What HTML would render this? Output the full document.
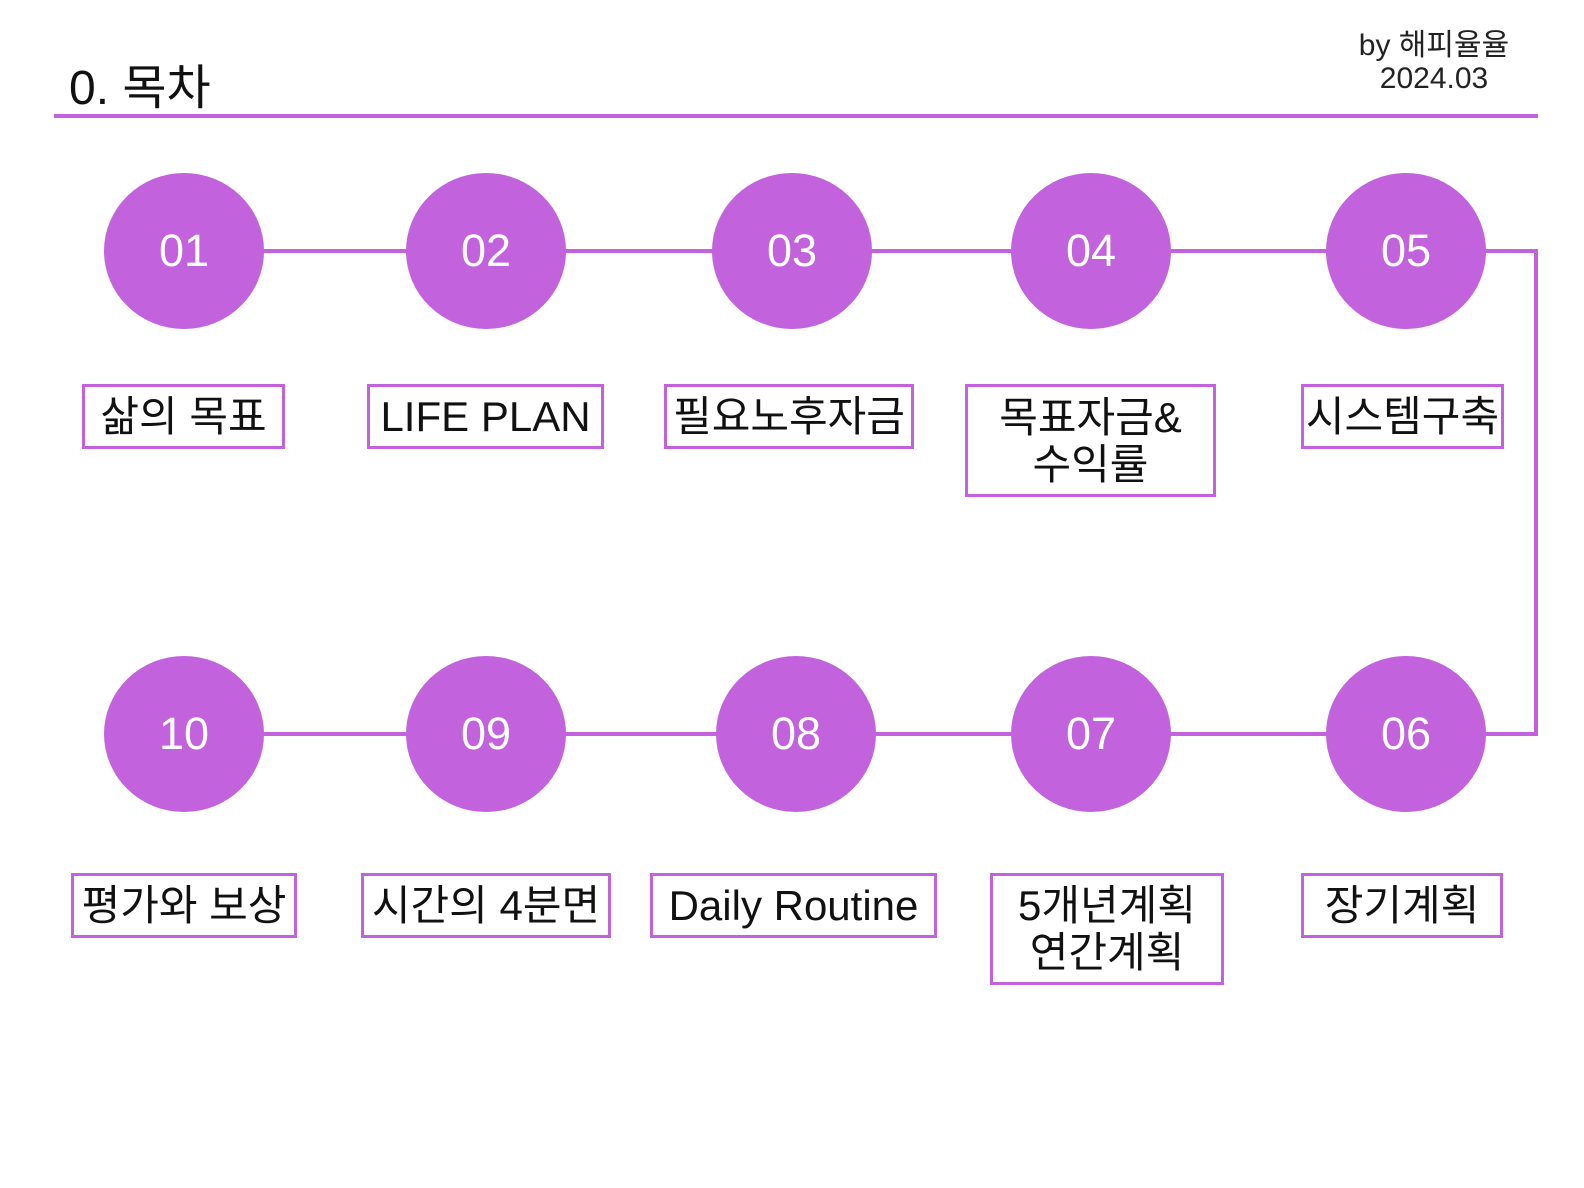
<!DOCTYPE html>
<html><head><meta charset="utf-8"><style>
body{margin:0;width:1584px;height:1188px;background:#fff;position:relative;overflow:hidden;font-family:"Liberation Sans","Noto Sans CJK KR",sans-serif;}
.a{position:absolute}
.c{position:absolute;width:160px;height:156px;border-radius:50%;background:#c262dd;color:#fff;font-size:45px;display:flex;align-items:center;justify-content:center}
.b{position:absolute;border:3px solid #c262dd;box-sizing:border-box;font-size:42px;color:#111;display:flex;align-items:center;justify-content:center;text-align:center;line-height:47px}
.l{position:absolute;background:#c262dd}
</style></head><body>
<div class="a" style="left:69px;top:48px;font-size:48px;color:#111">0. 목차</div>
<div class="a" style="left:1344px;top:29px;width:180px;text-align:center;font-size:30px;line-height:33px;color:#222">by 해피율율<br>2024.03</div>
<div class="l" style="left:54px;top:114px;width:1484px;height:4px"></div>
<div class="l" style="left:184px;top:249px;width:1354px;height:4px"></div>
<div class="l" style="left:184px;top:732px;width:1354px;height:4px"></div>
<div class="l" style="left:1534px;top:249px;width:4px;height:487px"></div>
<div class="c" style="left:104px;top:173px">01</div>
<div class="c" style="left:406px;top:173px">02</div>
<div class="c" style="left:712px;top:173px">03</div>
<div class="c" style="left:1011px;top:173px">04</div>
<div class="c" style="left:1326px;top:173px">05</div>
<div class="c" style="left:104px;top:656px">10</div>
<div class="c" style="left:406px;top:656px">09</div>
<div class="c" style="left:716px;top:656px">08</div>
<div class="c" style="left:1011px;top:656px">07</div>
<div class="c" style="left:1326px;top:656px">06</div>
<div class="b" style="left:82px;top:384px;width:203px;height:65px">삶의 목표</div>
<div class="b" style="left:367px;top:384px;width:237px;height:65px">LIFE PLAN</div>
<div class="b" style="left:664px;top:384px;width:250px;height:65px">필요노후자금</div>
<div class="b" style="left:965px;top:384px;width:251px;height:113px">목표자금&amp;<br>수익률</div>
<div class="b" style="left:1301px;top:384px;width:203px;height:65px">시스템구축</div>
<div class="b" style="left:71px;top:873px;width:226px;height:65px">평가와 보상</div>
<div class="b" style="left:361px;top:873px;width:250px;height:65px">시간의 4분면</div>
<div class="b" style="left:650px;top:873px;width:287px;height:65px">Daily Routine</div>
<div class="b" style="left:990px;top:873px;width:234px;height:112px">5개년계획<br>연간계획</div>
<div class="b" style="left:1301px;top:873px;width:202px;height:65px">장기계획</div>
</body></html>
